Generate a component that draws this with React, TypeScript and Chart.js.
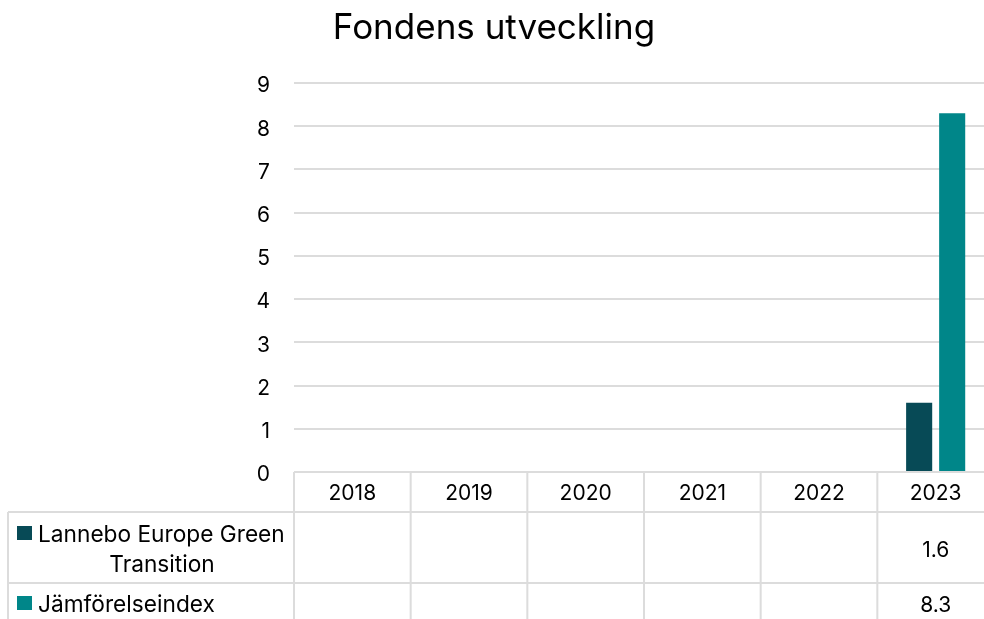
import React, { useEffect, useRef } from "react";
import { Chart, registerables } from "chart.js";

Chart.register(...registerables);

const title = "Fondens utveckling";
const categories = ["2018", "2019", "2020", "2021", "2022", "2023"];
const seriesNames = [["Lannebo Europe Green", "Transition"], ["Jämförelseindex"]];
const fundValues: (number | null)[] = [null, null, null, null, null, 1.6];
const indexValues: (number | null)[] = [null, null, null, null, null, 8.3];
const yTicks = [0, 1, 2, 3, 4, 5, 6, 7, 8, 9];
const colors = ["#074a56", "#008689"];

const FONT = "Inter, 'Liberation Sans', Arial, sans-serif";
const GRID = "#dcdcdc";

const tablePlugin = {
  id: "tablePlugin",
  afterDraw(chart: any) {
    const ctx = chart.ctx;
    const x = chart.scales.x;
    const area = chart.chartArea;
    const n = categories.length;
    const colW = (area.right - area.left) / n;
    const top = area.bottom;
    const headerBottom = top + 40;
    const row1Bottom = headerBottom + 71;
    const bottom = chart.height;
    const legendLeft = 8;
    ctx.save();
    // title
    ctx.fillStyle = "#000";
    ctx.font = `35px ${FONT}`;
    ctx.textAlign = "center";
    ctx.textBaseline = "alphabetic";
    ctx.fillText(title, 494, 39);

    ctx.strokeStyle = GRID;
    ctx.lineWidth = 2;
    ctx.beginPath();
    ctx.moveTo(legendLeft, headerBottom);
    ctx.lineTo(chart.width, headerBottom);
    ctx.moveTo(legendLeft, row1Bottom);
    ctx.lineTo(chart.width, row1Bottom);
    ctx.moveTo(legendLeft, headerBottom);
    ctx.lineTo(legendLeft, bottom);
    for (let i = 0; i <= n; i++) {
      const bx = area.left + i * colW;
      ctx.moveTo(bx, top);
      ctx.lineTo(bx, bottom);
    }
    ctx.stroke();

    ctx.fillStyle = "#000";
    ctx.font = `21px ${FONT}`;
    ctx.textAlign = "center";
    ctx.textBaseline = "alphabetic";
    categories.forEach((c, i) => {
      const cx = x.getPixelForValue(i);
      ctx.fillText(c, cx, top + 28);
      const v1 = fundValues[i];
      const v2 = indexValues[i];
      if (v1 != null) ctx.fillText(v1.toFixed(1), cx, headerBottom + 45);
      if (v2 != null) ctx.fillText(v2.toFixed(1), cx, row1Bottom + 29);
    });

    // legend labels
    ctx.font = `22.7px ${FONT}`;
    ctx.fillStyle = colors[0];
    ctx.fillRect(17, headerBottom + 14, 15, 14);
    ctx.fillStyle = colors[1];
    ctx.fillRect(17, row1Bottom + 13, 15, 14);
    ctx.fillStyle = "#000";
    ctx.textAlign = "left";
    ctx.fillText(seriesNames[0][0], 38, headerBottom + 30);
    ctx.textAlign = "center";
    ctx.fillText(seriesNames[0][1], 162, headerBottom + 60);
    ctx.textAlign = "left";
    ctx.fillText(seriesNames[1][0], 38, row1Bottom + 29);
    ctx.restore();
  },
};

export default function App() {
  const ref = useRef<HTMLCanvasElement>(null);
  useEffect(() => {
    document.body.style.margin = "0";
    document.body.style.overflow = "hidden";
    const chart = new Chart(ref.current!, {
      type: "bar",
      data: {
        labels: categories,
        datasets: [
          { label: seriesNames[0].join(" "), data: fundValues, backgroundColor: colors[0], categoryPercentage: 0.566, barPercentage: 0.79 },
          { label: seriesNames[1][0], data: indexValues, backgroundColor: colors[1], categoryPercentage: 0.566, barPercentage: 0.79 },
        ],
      },
      options: {
        responsive: false,
        animation: false,
        layout: { padding: { top: 83, bottom: 147, left: 0, right: 6 } },
        plugins: { legend: { display: false }, title: { display: false }, tooltip: { enabled: false } },
        scales: {
          x: { display: false },
          y: {
            min: yTicks[0],
            max: yTicks[yTicks.length - 1],
            afterFit(scale: any) { scale.width = 294; },
            afterBuildTicks(scale: any) { scale.ticks = yTicks.map((v) => ({ value: v })); },
            ticks: { stepSize: 1, padding: 24, labelOffset: 3, color: "#000", font: { family: FONT, size: 21 } },
            grid: { color: GRID, lineWidth: 2, drawTicks: false },
            border: { display: false },
          },
        },
      },
      plugins: [tablePlugin],
    });
    return () => chart.destroy();
  }, []);
  return (
    <div style={{ position: "fixed", left: 0, top: 0, width: 1000, height: 619 }}>
      <canvas ref={ref} width={1000} height={619} style={{ display: "block", width: 1000, height: 619 }} />
    </div>
  );
}
